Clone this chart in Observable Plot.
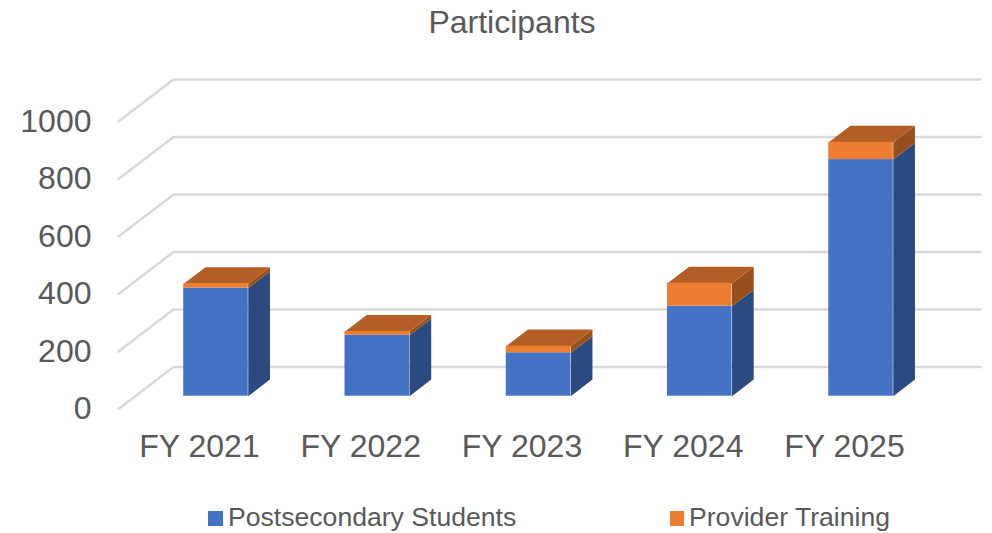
<!DOCTYPE html>
<html>
<head>
<meta charset="utf-8">
<script src="https://cdn.jsdelivr.net/npm/d3@7"></script>
<script src="https://cdn.jsdelivr.net/npm/@observablehq/plot@0.6"></script>
<style>
  html, body { margin: 0; padding: 0; background: #fff; overflow: hidden; }
  body { width: 992px; height: 533px; font-family: "Liberation Sans", Arial, sans-serif; color: #595959; }
  #title { height: 50px; line-height: 44px; font-size: 32px; text-align: center; padding-left: 32px; box-sizing: border-box; }
  #chart svg { display: block; }
  #legend { position: relative; height: 53px; font-size: 26.6px; }
  #legend span { position: absolute; white-space: nowrap; }
  #legend .sw { width: 14.5px; height: 14.5px; top: 31px; }
  #legend .lb { top: 22px; line-height: 30px; }
</style>
</head>
<body>
<div id="title"></div>
<div id="chart"></div>
<div id="legend"></div>
<script>
const titleText = "Participants";
const categories = ["FY 2021", "FY 2022", "FY 2023", "FY 2024", "FY 2025"];
const students = [376, 212, 151, 313, 823];
const training = [15, 13, 23, 80, 60];
const seriesNames = ["Postsecondary Students", "Provider Training"];
const yTicks = [0, 200, 400, 600, 800, 1000];

const blue = "#4472C4", orange = "#ED7D31";
const blueSide = "#2A4A80", orangeSide = "#97501C", orangeTop = "#B25E25";

// Oblique depth of a bar, and of the back wall, in data units
const halfBar = 0.2;
const barDepth = { x: 0.1346, y: 57.7 };
const wallBack = { x: -0.2636, y: 101.6 };
const wallFront = { x: -0.6047, y: -44.5 };
const wallRight = 4.741;

document.getElementById("title").textContent = titleText;

const bars = categories.map((c, i) => ({ i, c, s: students[i], t: students[i] + training[i] }));

const gridPts = yTicks.flatMap(v => [
  { v, x: wallFront.x, y: v + wallFront.y },
  { v, x: wallBack.x, y: v + wallBack.y },
  { v, x: wallRight, y: v + wallBack.y }
]);

// Side and top faces: parallelograms in data space
const faces = bars.flatMap(b => {
  const L = b.i - halfBar, R = b.i + halfBar;
  const side = (id, y0, y1, color) => [
    { id, color, x: R, y: y0 },
    { id, color, x: R + barDepth.x, y: y0 + barDepth.y },
    { id, color, x: R + barDepth.x, y: y1 + barDepth.y },
    { id, color, x: R, y: y1 }
  ];
  return [
    ...side(`s${b.i}`, 0, b.s, blueSide),
    ...side(`o${b.i}`, b.s, b.t, orangeSide),
    { id: `t${b.i}`, color: orangeTop, x: L, y: b.t },
    { id: `t${b.i}`, color: orangeTop, x: R, y: b.t },
    { id: `t${b.i}`, color: orangeTop, x: R + barDepth.x, y: b.t + barDepth.y },
    { id: `t${b.i}`, color: orangeTop, x: L + barDepth.x, y: b.t + barDepth.y }
  ];
});

const plot = Plot.plot({
  width: 992,
  height: 430,
  marginLeft: 118,
  marginRight: 12,
  marginTop: 29,
  marginBottom: 71.5,
  style: { background: "transparent", color: "#595959", fontFamily: "'Liberation Sans', Arial, sans-serif" },
  x: { domain: [wallFront.x, wallRight], axis: null },
  y: { domain: [wallFront.y, 1000 + wallBack.y], axis: null },
  marks: [
    Plot.line(gridPts, { x: "x", y: "y", z: "v", stroke: "#D9D9D9", strokeWidth: 2.5, curve: "linear" }),
    Plot.line(faces, { x: "x", y: "y", z: "id", fill: "color", stroke: null, curve: "linear" }),
    Plot.rect(bars, { x1: d => d.i - halfBar, x2: d => d.i + halfBar, y1: 0, y2: "s", fill: blue }),
    Plot.rect(bars, { x1: d => d.i - halfBar, x2: d => d.i + halfBar, y1: "s", y2: "t", fill: orange }),
    Plot.axisY({ ticks: yTicks, tickFormat: d3.format("d"), tickSize: 0, tickPadding: 27, dy: 13, fontSize: 32, fill: "#595959", label: null, anchor: "left" }),
    Plot.axisX({ ticks: categories.map((c, i) => i), tickFormat: i => categories[i], tickSize: 0, tickPadding: 25, dx: -16.5, fontSize: 32, fill: "#595959", label: null, anchor: "bottom" })
  ]
});
document.getElementById("chart").appendChild(plot);

const legend = document.getElementById("legend");
[[208, 228, blue], [669.5, 689, orange]].forEach(([sx, lx, col], k) => {
  const sw = document.createElement("span");
  sw.className = "sw"; sw.style.left = sx + "px"; sw.style.background = col;
  const lb = document.createElement("span");
  lb.className = "lb"; lb.style.left = lx + "px"; lb.textContent = seriesNames[k];
  legend.append(sw, lb);
});
</script>
</body>
</html>
